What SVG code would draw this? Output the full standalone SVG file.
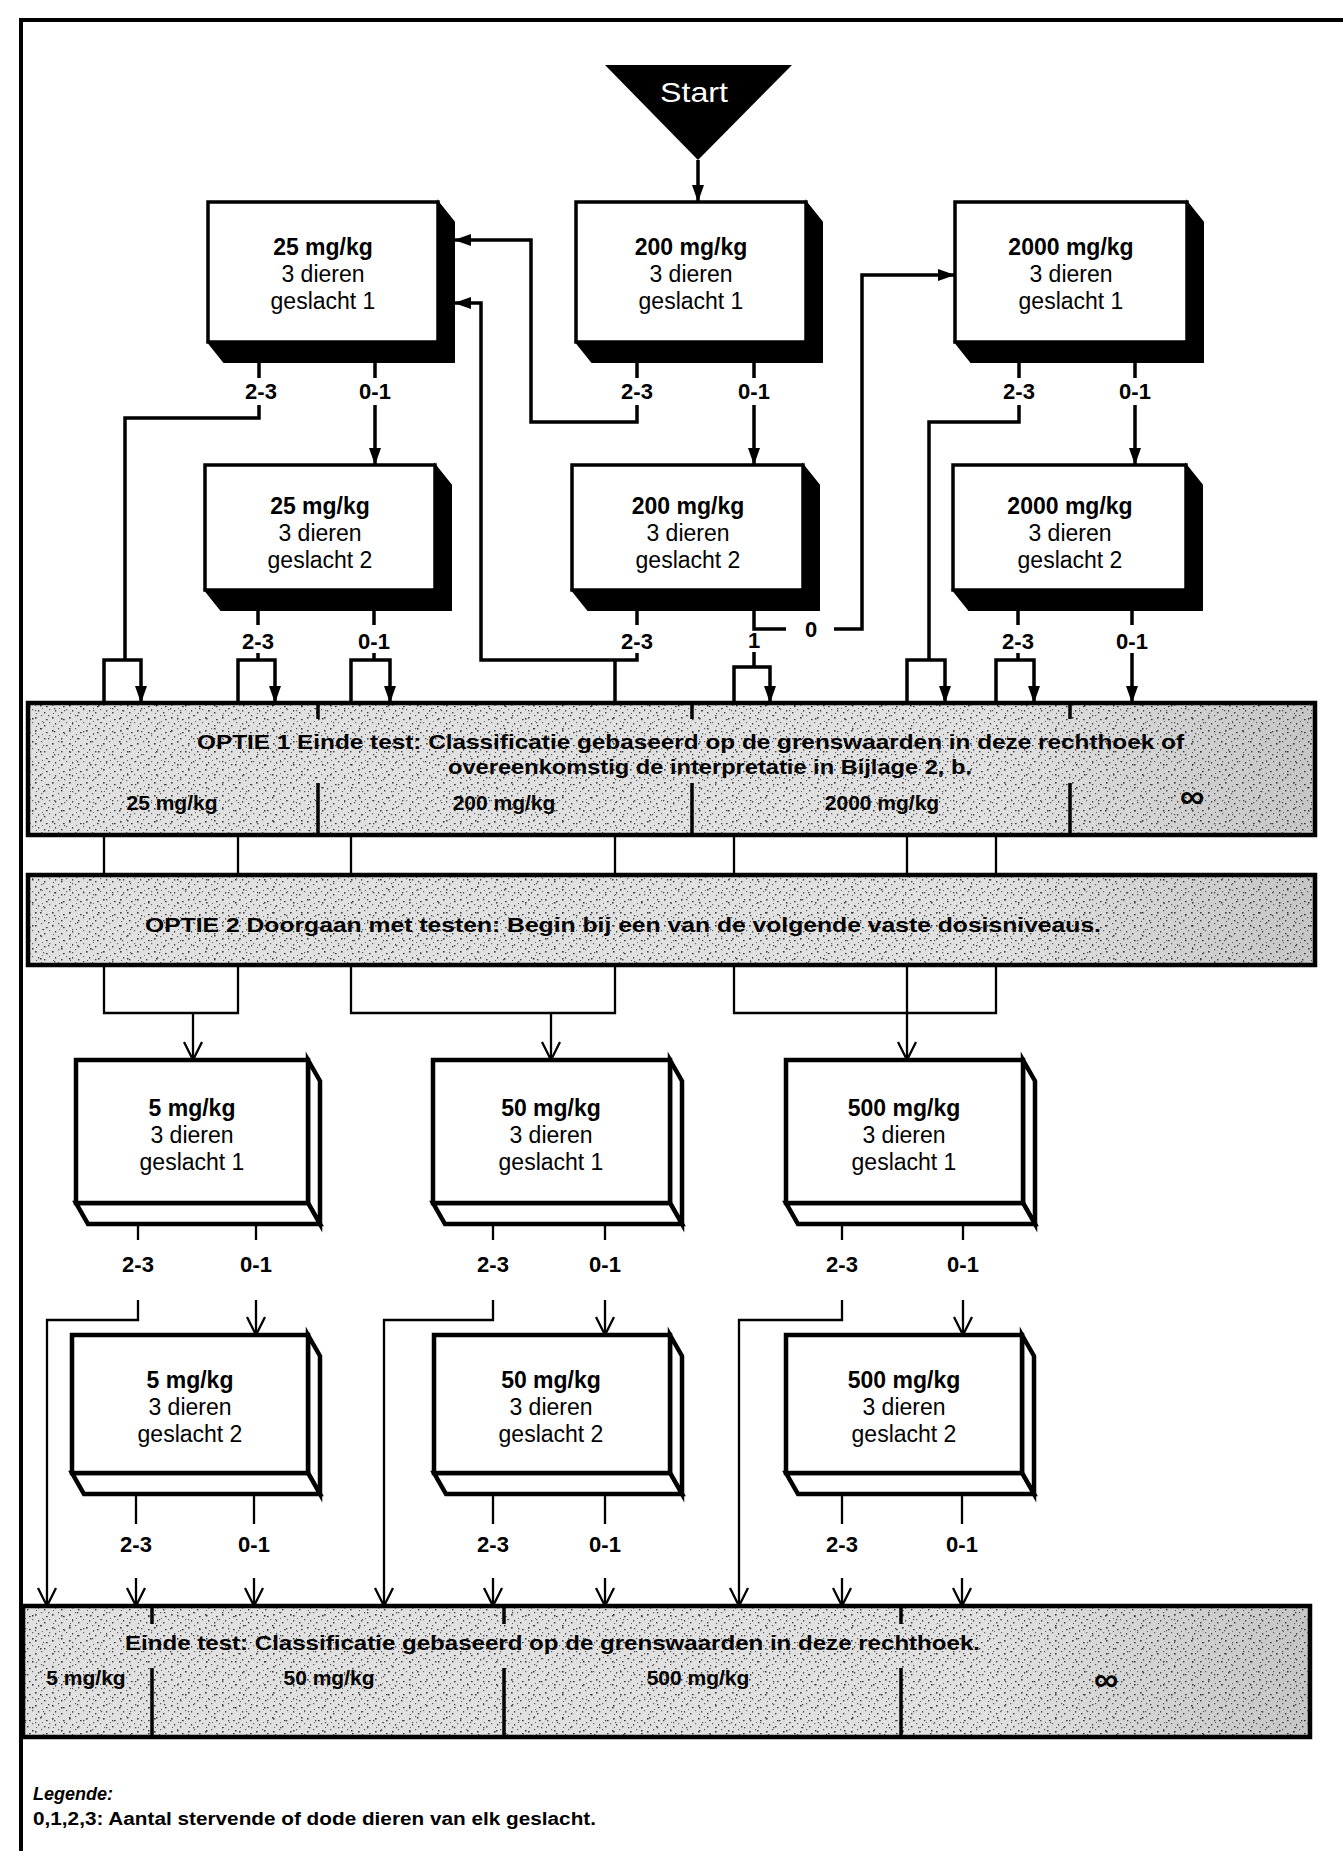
<svg xmlns="http://www.w3.org/2000/svg" width="1343" height="1851" viewBox="0 0 1343 1851">
<defs>
<style>
.t{font-family:"Liberation Sans",Arial,sans-serif;fill:#000}
.b{font-weight:bold}
.bt{font-size:23px;text-anchor:middle}
.lb{font-size:22px;font-weight:bold;text-anchor:middle}
.ot{font-size:21px;font-weight:bold}
.inf{font-size:34px;font-weight:bold;text-anchor:middle}
.front{fill:#fff;stroke:#000;stroke-width:3.5;stroke-linejoin:miter}
.ext{fill:#000;stroke:#000;stroke-width:2}
.lf{fill:#fff;stroke:#000;stroke-width:4.5;stroke-linejoin:miter}
.c{fill:none;stroke:#000;stroke-width:3.5;stroke-linejoin:miter}
.c2{fill:none;stroke:#000;stroke-width:2.3;stroke-linejoin:miter}
.obox{stroke:#000;stroke-width:4.5}
.div{stroke:#000;stroke-width:3.5}
</style>
<marker id="af" markerUnits="userSpaceOnUse" viewBox="0 0 17 12" markerWidth="17" markerHeight="12" refX="17" refY="6" orient="auto">
<path d="M0,0 L17,6 L0,12 z" fill="#000"/>
</marker>
<marker id="ao" markerUnits="userSpaceOnUse" viewBox="-2 -2 22 22" markerWidth="22" markerHeight="22" refX="18" refY="9" orient="auto" overflow="visible">
<path d="M0,0 L18,9 L0,18" fill="none" stroke="#000" stroke-width="2.3"/>
</marker>
<pattern id="sp1" width="17" height="13" patternUnits="userSpaceOnUse">
<rect width="17" height="13" fill="#e0e0e0"/>
<rect x="1" y="2" width="1.6" height="1.6" fill="#3a3a3a"/>
<rect x="7" y="0" width="1.2" height="1.2" fill="#555"/>
<rect x="12" y="4" width="1.6" height="1.2" fill="#333"/>
<rect x="4" y="8" width="1.2" height="1.6" fill="#444"/>
<rect x="10" y="10" width="1.4" height="1.4" fill="#3a3a3a"/>
<rect x="15" y="7" width="1.2" height="1.2" fill="#666"/>
<rect x="2" y="11" width="1" height="1" fill="#555"/>
<rect x="8" y="6" width="1" height="1" fill="#666"/>
</pattern>
<pattern id="sp2" width="29" height="23" patternUnits="userSpaceOnUse">
<rect x="3" y="5" width="1.5" height="1.5" fill="#333"/>
<rect x="19" y="2" width="1.3" height="1.3" fill="#444"/>
<rect x="11" y="15" width="1.5" height="1.5" fill="#333"/>
<rect x="25" y="18" width="1.3" height="1.3" fill="#444"/>
<rect x="14" y="9" width="1.2" height="1.2" fill="#555"/>
<rect x="6" y="20" width="1.2" height="1.2" fill="#555"/>
</pattern>
<linearGradient id="dk" x1="0" y1="0" x2="1" y2="0">
<stop offset="0.75" stop-color="#000" stop-opacity="0"/>
<stop offset="1" stop-color="#000" stop-opacity="0.12"/>
</linearGradient>
</defs>

<rect width="1343" height="1851" fill="#fff"/>
<path id="frame" d="M21,1851 V20 H1343" fill="none" stroke="#000" stroke-width="4"/>

<g id="start">
<polygon points="605,65 792,65 698,160" fill="#000"/>
<text class="t" x="694" y="102" font-size="28" text-anchor="middle" style="fill:#fff" textLength="68" lengthAdjust="spacingAndGlyphs">Start</text>
</g>

<g id="connectors">
<path class="c" d="M698,160 V202" marker-end="url(#af)"/>
<path class="c" d="M259,362 V378 M375,362 V378 M637,362 V378 M754,362 V378 M1019,362 V378 M1135,362 V378"/>
<path class="c" d="M259,405 V418 H125 V660"/>
<path class="c" d="M104,703 V660 H141 V703" marker-end="url(#af)"/>
<path class="c" d="M375,405 V465" marker-end="url(#af)"/>
<path class="c" d="M637,405 V422 H531 V240 H454" marker-end="url(#af)"/>
<path class="c" d="M754,405 V465" marker-end="url(#af)"/>
<path class="c" d="M1019,405 V422 H929 V660"/>
<path class="c" d="M907,703 V660 H945 V703" marker-end="url(#af)"/>
<path class="c" d="M1135,405 V465" marker-end="url(#af)"/>
<path class="c" d="M258,610 V625 M374,610 V625 M637,610 V625 M1018,610 V625 M1132,610 V625"/>
<path class="c" d="M258,653 V660"/>
<path class="c" d="M238,703 V660 H275 V703" marker-end="url(#af)"/>
<path class="c" d="M374,653 V660"/>
<path class="c" d="M351,703 V660 H390 V703" marker-end="url(#af)"/>
<path class="c" d="M637,653 V660 H481 V303 H454" marker-end="url(#af)"/>
<path class="c" d="M615,660 V703"/>
<path class="c" d="M754,610 V629 H786"/>
<path class="c" d="M834,629 H862 V275 H955" marker-end="url(#af)"/>
<path class="c" d="M754,652 V667"/>
<path class="c" d="M734,703 V667 H770 V703" marker-end="url(#af)"/>
<path class="c" d="M1018,653 V660"/>
<path class="c" d="M996,703 V660 H1034 V703" marker-end="url(#af)"/>
<path class="c" d="M1132,653 V703" marker-end="url(#af)"/>
<path class="c2" d="M104,835 V875 M238,835 V875 M351,835 V875 M615,835 V875 M734,835 V875 M907,835 V875 M996,835 V875"/>
<path class="c2" d="M104,965 V1013 H238 V965"/>
<path class="c2" d="M193,1013 V1060" marker-end="url(#ao)"/>
<path class="c2" d="M351,965 V1013 H615 V965"/>
<path class="c2" d="M551,1013 V1060" marker-end="url(#ao)"/>
<path class="c2" d="M734,965 V1013 H996 V965"/>
<path class="c2" d="M907,965 V1060" marker-end="url(#ao)"/>
<path class="c2" d="M138,1225 V1240 M256,1225 V1240 M493,1225 V1240 M605,1225 V1240 M842,1225 V1240 M963,1225 V1240"/>
<path class="c2" d="M138,1300 V1320 H47 V1606" marker-end="url(#ao)"/>
<path class="c2" d="M256,1300 V1335" marker-end="url(#ao)"/>
<path class="c2" d="M493,1300 V1320 H384 V1606" marker-end="url(#ao)"/>
<path class="c2" d="M605,1300 V1335" marker-end="url(#ao)"/>
<path class="c2" d="M842,1300 V1320 H739 V1606" marker-end="url(#ao)"/>
<path class="c2" d="M963,1300 V1335" marker-end="url(#ao)"/>
<path class="c2" d="M136,1494 V1524 M254,1494 V1524 M493,1494 V1524 M605,1494 V1524 M842,1494 V1524 M962,1494 V1524"/>
<path class="c2" d="M136,1578 V1606" marker-end="url(#ao)"/>
<path class="c2" d="M254,1578 V1606" marker-end="url(#ao)"/>
<path class="c2" d="M493,1578 V1606" marker-end="url(#ao)"/>
<path class="c2" d="M605,1578 V1606" marker-end="url(#ao)"/>
<path class="c2" d="M842,1578 V1606" marker-end="url(#ao)"/>
<path class="c2" d="M962,1578 V1606" marker-end="url(#ao)"/>
</g>

<g id="labels" class="t">
<text class="lb" x="261" y="399">2-3</text>
<text class="lb" x="375" y="399">0-1</text>
<text class="lb" x="637" y="399">2-3</text>
<text class="lb" x="754" y="399">0-1</text>
<text class="lb" x="1019" y="399">2-3</text>
<text class="lb" x="1135" y="399">0-1</text>
<text class="lb" x="258" y="649">2-3</text>
<text class="lb" x="374" y="649">0-1</text>
<text class="lb" x="637" y="649">2-3</text>
<text class="lb" x="754" y="648">1</text>
<text class="lb" x="811" y="637">0</text>
<text class="lb" x="1018" y="649">2-3</text>
<text class="lb" x="1132" y="649">0-1</text>
<text class="lb" x="138" y="1272">2-3</text>
<text class="lb" x="256" y="1272">0-1</text>
<text class="lb" x="493" y="1272">2-3</text>
<text class="lb" x="605" y="1272">0-1</text>
<text class="lb" x="842" y="1272">2-3</text>
<text class="lb" x="963" y="1272">0-1</text>
<text class="lb" x="136" y="1552">2-3</text>
<text class="lb" x="254" y="1552">0-1</text>
<text class="lb" x="493" y="1552">2-3</text>
<text class="lb" x="605" y="1552">0-1</text>
<text class="lb" x="842" y="1552">2-3</text>
<text class="lb" x="962" y="1552">0-1</text>
</g>

<g id="b25g1">
<polygon class="ext" points="438,202 454,222 454,362 224,362 208,342 438,342"/>
<rect class="front" x="208" y="202" width="230" height="140"/>
<text class="t bt b" x="323" y="255">25 mg/kg</text>
<text class="t bt" x="323" y="282">3 dieren</text>
<text class="t bt" x="323" y="309">geslacht 1</text>
</g>
<g id="b200g1">
<polygon class="ext" points="806,202 822,222 822,362 592,362 576,342 806,342"/>
<rect class="front" x="576" y="202" width="230" height="140"/>
<text class="t bt b" x="691" y="255">200 mg/kg</text>
<text class="t bt" x="691" y="282">3 dieren</text>
<text class="t bt" x="691" y="309">geslacht 1</text>
</g>
<g id="b2000g1">
<polygon class="ext" points="1187,202 1203,222 1203,362 971,362 955,342 1187,342"/>
<rect class="front" x="955" y="202" width="232" height="140"/>
<text class="t bt b" x="1071" y="255">2000 mg/kg</text>
<text class="t bt" x="1071" y="282">3 dieren</text>
<text class="t bt" x="1071" y="309">geslacht 1</text>
</g>
<g id="b25g2">
<polygon class="ext" points="435,465 451,485 451,610 221,610 205,590 435,590"/>
<rect class="front" x="205" y="465" width="230" height="125"/>
<text class="t bt b" x="320" y="514">25 mg/kg</text>
<text class="t bt" x="320" y="541">3 dieren</text>
<text class="t bt" x="320" y="568">geslacht 2</text>
</g>
<g id="b200g2">
<polygon class="ext" points="803,465 819,485 819,610 588,610 572,590 803,590"/>
<rect class="front" x="572" y="465" width="231" height="125"/>
<text class="t bt b" x="688" y="514">200 mg/kg</text>
<text class="t bt" x="688" y="541">3 dieren</text>
<text class="t bt" x="688" y="568">geslacht 2</text>
</g>
<g id="b2000g2">
<polygon class="ext" points="1186,465 1202,485 1202,610 969,610 953,590 1186,590"/>
<rect class="front" x="953" y="465" width="233" height="125"/>
<text class="t bt b" x="1070" y="514">2000 mg/kg</text>
<text class="t bt" x="1070" y="541">3 dieren</text>
<text class="t bt" x="1070" y="568">geslacht 2</text>
</g>

<g id="optie1">
<rect x="28" y="703" width="1287" height="132" fill="url(#sp1)"/>
<rect x="28" y="703" width="1287" height="132" fill="url(#sp2)"/>
<rect class="obox" x="28" y="703" width="1287" height="132" fill="url(#dk)"/>
<path class="div" d="M318,703 V719 M692,703 V719 M1070,703 V719 M318,783 V835 M692,783 V835 M1070,783 V835"/>
<text class="t ot" x="197" y="749" textLength="987" lengthAdjust="spacingAndGlyphs">OPTIE 1 Einde test: Classificatie gebaseerd op de grenswaarden in deze rechthoek of</text>
<text class="t ot" x="448" y="774" textLength="524" lengthAdjust="spacingAndGlyphs">overeenkomstig de interpretatie in Bijlage 2, b.</text>
<text class="t ot" x="172" y="810" text-anchor="middle">25 mg/kg</text>
<text class="t ot" x="504" y="810" text-anchor="middle">200 mg/kg</text>
<text class="t ot" x="882" y="810" text-anchor="middle">2000 mg/kg</text>
<text class="t inf" x="1192" y="808">∞</text>
</g>

<g id="optie2">
<rect x="28" y="875" width="1287" height="90" fill="url(#sp1)"/>
<rect x="28" y="875" width="1287" height="90" fill="url(#sp2)"/>
<rect class="obox" x="28" y="875" width="1287" height="90" fill="url(#dk)"/>
<text class="t ot" x="145" y="932" textLength="956" lengthAdjust="spacingAndGlyphs">OPTIE 2 Doorgaan met testen: Begin bij een van de volgende vaste dosisniveaus.</text>
</g>

<g id="b5g1">
<polygon class="lf" points="308,1060 320,1081 320,1224 308,1203"/>
<polygon class="lf" points="76,1203 308,1203 320,1224 88,1224"/>
<rect class="lf" x="76" y="1060" width="232" height="143"/>
<text class="t bt b" x="192" y="1116">5 mg/kg</text>
<text class="t bt" x="192" y="1143">3 dieren</text>
<text class="t bt" x="192" y="1170">geslacht 1</text>
</g>
<g id="b50g1">
<polygon class="lf" points="670,1060 682,1081 682,1224 670,1203"/>
<polygon class="lf" points="433,1203 670,1203 682,1224 445,1224"/>
<rect class="lf" x="433" y="1060" width="237" height="143"/>
<text class="t bt b" x="551" y="1116">50 mg/kg</text>
<text class="t bt" x="551" y="1143">3 dieren</text>
<text class="t bt" x="551" y="1170">geslacht 1</text>
</g>
<g id="b500g1">
<polygon class="lf" points="1023,1060 1035,1081 1035,1224 1023,1203"/>
<polygon class="lf" points="786,1203 1023,1203 1035,1224 798,1224"/>
<rect class="lf" x="786" y="1060" width="237" height="143"/>
<text class="t bt b" x="904" y="1116">500 mg/kg</text>
<text class="t bt" x="904" y="1143">3 dieren</text>
<text class="t bt" x="904" y="1170">geslacht 1</text>
</g>
<g id="b5g2">
<polygon class="lf" points="308,1335 320,1356 320,1494 308,1473"/>
<polygon class="lf" points="72,1473 308,1473 320,1494 84,1494"/>
<rect class="lf" x="72" y="1335" width="236" height="138"/>
<text class="t bt b" x="190" y="1388">5 mg/kg</text>
<text class="t bt" x="190" y="1415">3 dieren</text>
<text class="t bt" x="190" y="1442">geslacht 2</text>
</g>
<g id="b50g2">
<polygon class="lf" points="670,1335 682,1356 682,1494 670,1473"/>
<polygon class="lf" points="434,1473 670,1473 682,1494 446,1494"/>
<rect class="lf" x="434" y="1335" width="236" height="138"/>
<text class="t bt b" x="551" y="1388">50 mg/kg</text>
<text class="t bt" x="551" y="1415">3 dieren</text>
<text class="t bt" x="551" y="1442">geslacht 2</text>
</g>
<g id="b500g2">
<polygon class="lf" points="1022,1335 1034,1356 1034,1494 1022,1473"/>
<polygon class="lf" points="786,1473 1022,1473 1034,1494 798,1494"/>
<rect class="lf" x="786" y="1335" width="236" height="138"/>
<text class="t bt b" x="904" y="1388">500 mg/kg</text>
<text class="t bt" x="904" y="1415">3 dieren</text>
<text class="t bt" x="904" y="1442">geslacht 2</text>
</g>

<g id="einde">
<rect x="23" y="1606" width="1287" height="131" fill="url(#sp1)"/>
<rect x="23" y="1606" width="1287" height="131" fill="url(#sp2)"/>
<rect class="obox" x="23" y="1606" width="1287" height="131" fill="url(#dk)"/>
<path class="div" d="M152,1606 V1624 M504,1606 V1624 M901,1606 V1624 M152,1668 V1737 M504,1668 V1737 M901,1668 V1737"/>
<text class="t ot" x="125" y="1650" textLength="855" lengthAdjust="spacingAndGlyphs">Einde test: Classificatie gebaseerd op de grenswaarden in deze rechthoek.</text>
<text class="t ot" x="86" y="1685" text-anchor="middle">5 mg/kg</text>
<text class="t ot" x="329" y="1685" text-anchor="middle">50 mg/kg</text>
<text class="t ot" x="698" y="1685" text-anchor="middle">500 mg/kg</text>
<text class="t inf" x="1106" y="1691">∞</text>
</g>

<g id="legend">
<text class="t" x="33" y="1800" font-size="18" font-weight="bold" font-style="italic">Legende:</text>
<text class="t" x="33" y="1825" font-size="18" font-weight="bold" textLength="563" lengthAdjust="spacingAndGlyphs">0,1,2,3: Aantal stervende of dode dieren van elk geslacht.</text>
</g>
</svg>
